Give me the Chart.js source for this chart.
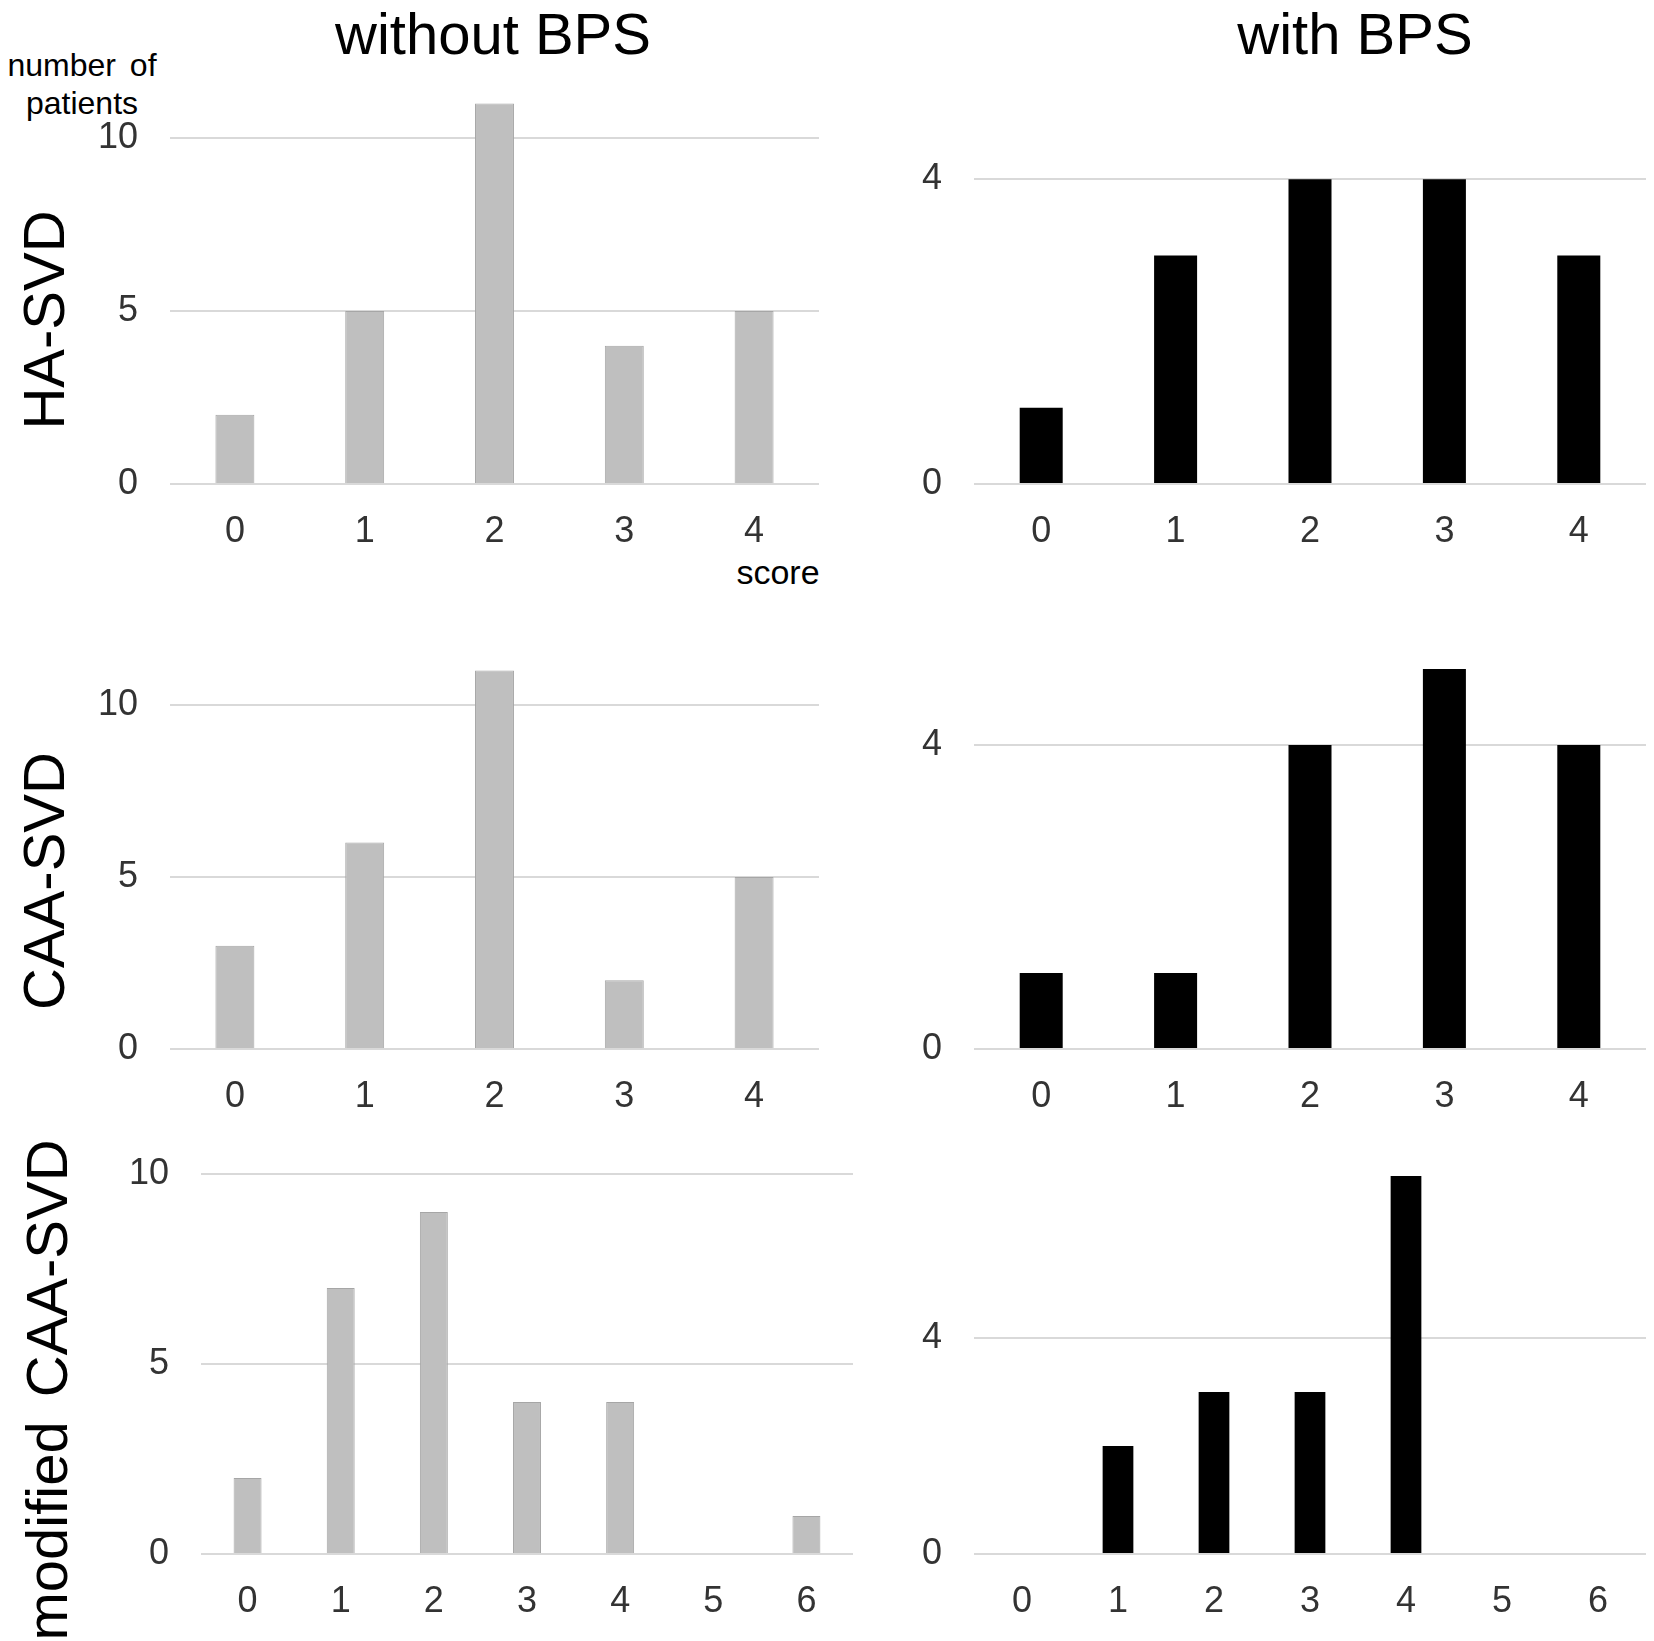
<!DOCTYPE html>
<html>
<head>
<meta charset="utf-8">
<script src="https://cdn.jsdelivr.net/npm/chart.js@4.4.1/dist/chart.umd.min.js"></script>
<style>
  html, body { margin: 0; padding: 0; background: #fff; }
  #page { position: relative; width: 1654px; height: 1641px; overflow: hidden; }
  #page canvas { position: absolute; }
  .t {
    position: absolute;
    white-space: nowrap;
    line-height: 1;
    font-family: "Liberation Sans", Arial, sans-serif;
    color: #000;
  }
</style>
</head>
<body>
<div id="page">
  <div class="t" style="font-size:58px; left:493px; top:5px; transform:translateX(-50%);">without BPS</div>
  <div class="t" style="font-size:58px; left:1355px; top:5px; transform:translateX(-50%);">with BPS</div>

  <div class="t" style="font-size:32px; left:82px; top:49px; transform:translateX(-50%); word-spacing:5px;">number of</div>
  <div class="t" style="font-size:32px; left:82px; top:87px; transform:translateX(-50%);">patients</div>
  <div class="t" style="font-size:34px; left:778px; top:555px; transform:translateX(-50%);">score</div>

  <div class="t" style="font-size:58px; left:44px; top:320px; transform:translate(-50%,-50%) rotate(-90deg);">HA-SVD</div>
  <div class="t" style="font-size:58px; left:44px; top:881px; transform:translate(-50%,-50%) rotate(-90deg);">CAA-SVD</div>
  <div class="t" style="font-size:58px; left:47px; top:1390px; transform:translate(-50%,-50%) rotate(-90deg); word-spacing:8px;">modified CAA-SVD</div>
</div>

<script>
// score categories
var scores5 = ['0', '1', '2', '3', '4'];
var scores7 = ['0', '1', '2', '3', '4', '5', '6'];

// number of patients for each score
var haWithout = [2, 5, 11, 4, 5];
var haWith = [1, 3, 4, 4, 3];
var caaWithout = [3, 6, 11, 2, 5];
var caaWith = [1, 1, 4, 5, 4];
var modWithout = [2, 7, 9, 4, 4, 0, 1];
var modWith = [0, 2, 3, 3, 7, 0, 0];

// y axis tick labels
var ticksWithout = [0, 5, 10];
var ticksWith = [0, 4];

// fixed room around each plot area inside its canvas
var Y_W = 120;
var X_H = 90;
var PAD_T = 60;
var PAD_R = 8;

Chart.defaults.font.family = '"Liberation Sans", Arial, sans-serif';

var grey = { fill: '#bfbfbf', line: '#a6a6a6', width: 1, bar: 0.30 };
var black = { fill: '#000000', line: '#000000', width: 0, bar: 0.32 };

// where each small chart sits on the page
var panels = [
  { labels: scores5, data: haWithout,  ticks: ticksWithout, max: 12, style: grey,  left: 170, right: 819,  base: 484,  unit: 34.6 },
  { labels: scores5, data: haWith,     ticks: ticksWith,    max: 5,  style: black, left: 974, right: 1646, base: 484,  unit: 76.25 },
  { labels: scores5, data: caaWithout, ticks: ticksWithout, max: 12, style: grey,  left: 170, right: 819,  base: 1049, unit: 34.4 },
  { labels: scores5, data: caaWith,    ticks: ticksWith,    max: 6,  style: black, left: 974, right: 1646, base: 1049, unit: 76.0 },
  { labels: scores7, data: modWithout, ticks: ticksWithout, max: 11, style: grey,  left: 201, right: 853,  base: 1554, unit: 38.0 },
  { labels: scores7, data: modWith,    ticks: ticksWith,    max: 8,  style: black, left: 974, right: 1646, base: 1554, unit: 54.0 }
];

var page = document.getElementById('page');

panels.forEach(function (p) {
  var plotH = Math.round(p.max * p.unit);
  var top = p.base - plotH;

  var canvas = document.createElement('canvas');
  canvas.width = Y_W + (p.right - p.left) + PAD_R;
  canvas.height = PAD_T + plotH + X_H;
  canvas.style.left = (p.left - Y_W) + 'px';
  canvas.style.top = (top - PAD_T) + 'px';
  page.appendChild(canvas);

  var tickFont = { size: 36 };

  new Chart(canvas.getContext('2d'), {
    type: 'bar',
    data: {
      labels: p.labels,
      datasets: [{
        data: p.data,
        backgroundColor: p.style.fill,
        borderColor: p.style.line,
        borderWidth: p.style.width,
        barPercentage: p.style.bar,
        categoryPercentage: 1
      }]
    },
    options: {
      responsive: false,
      animation: false,
      devicePixelRatio: 1,
      layout: { padding: { top: PAD_T, right: PAD_R, left: 0, bottom: 0 } },
      plugins: {
        legend: { display: false },
        tooltip: { enabled: false }
      },
      scales: {
        x: {
          offset: true,
          grid: { display: false, drawTicks: false },
          border: { display: false },
          ticks: { padding: 26, color: '#333333', font: tickFont, maxRotation: 0, autoSkip: false },
          afterFit: function (scale) { scale.height = X_H; }
        },
        y: {
          min: 0,
          max: p.max,
          grid: { color: '#d9d9d9', lineWidth: 2, drawTicks: false },
          border: { display: false },
          ticks: { padding: 32, color: '#333333', font: tickFont },
          afterBuildTicks: function (scale) {
            scale.ticks = p.ticks.map(function (v) { return { value: v }; });
          },
          afterFit: function (scale) { scale.width = Y_W; }
        }
      }
    }
  });
});
</script>
</body>
</html>
